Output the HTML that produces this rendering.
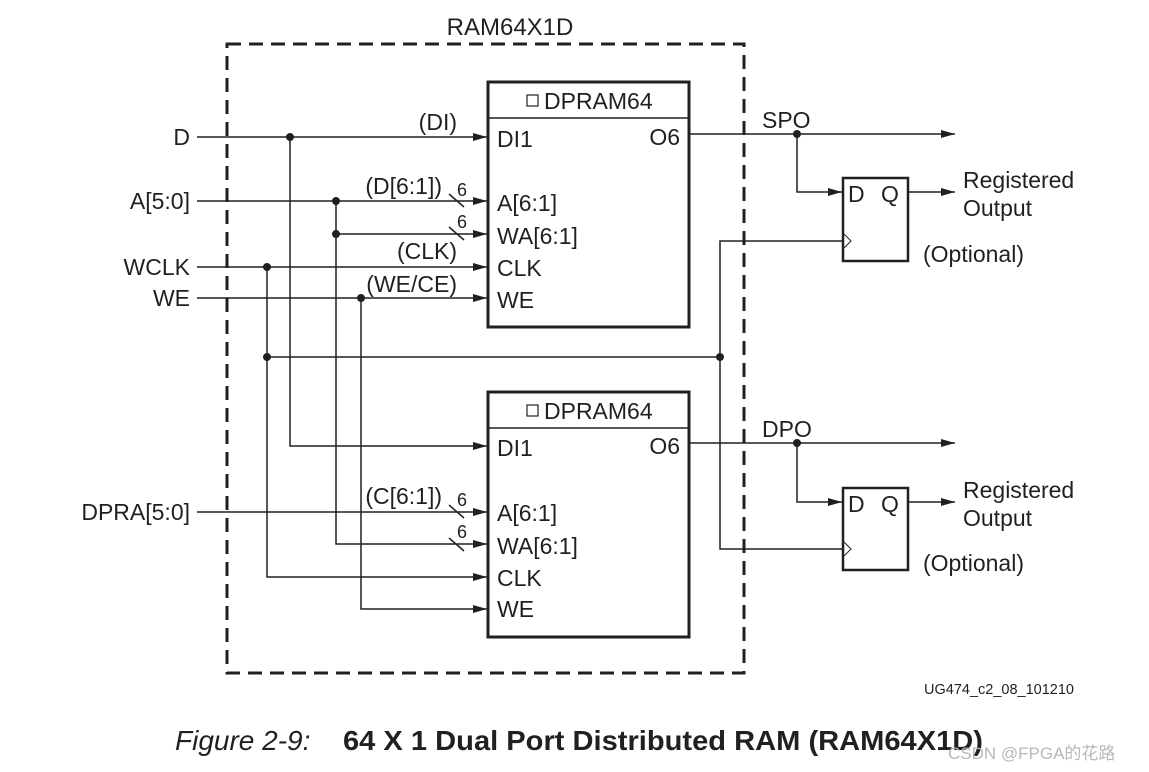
<!DOCTYPE html>
<html><head><meta charset="utf-8"><style>
html,body{margin:0;padding:0;background:#fff;}
svg{display:block;font-family:"Liberation Sans",Arial,sans-serif;}
</style></head><body>
<svg width="1149" height="772" viewBox="0 0 1149 772" xmlns="http://www.w3.org/2000/svg">
<defs>
<marker id="ar" markerWidth="14" markerHeight="10" refX="14" refY="5" orient="auto" markerUnits="userSpaceOnUse">
<path d="M0,1 L14,5 L0,9 z" fill="#231f20"/></marker>
</defs>
<g fill="none" stroke="#231f20">
<rect x="227" y="44" width="517" height="629" stroke-width="3" stroke-dasharray="14,8"/>
<rect x="488" y="82" width="201" height="245" stroke-width="3"/>
<line x1="488" y1="118" x2="689" y2="118" stroke-width="1.5"/>
<rect x="488" y="392" width="201" height="245" stroke-width="3"/>
<line x1="488" y1="428" x2="689" y2="428" stroke-width="1.5"/>
<rect x="843" y="178" width="65" height="83" stroke-width="2.5"/>
<rect x="843" y="488" width="65" height="82" stroke-width="2.5"/>
<path d="M844,234 L851,241 L844,248" stroke-width="1"/>
<path d="M844,542 L851,549 L844,556" stroke-width="1"/>
<g stroke-width="1.5" marker-end="url(#ar)">
<line x1="197" y1="137" x2="487" y2="137"/>
<line x1="197" y1="201" x2="487" y2="201"/>
<line x1="336" y1="234" x2="487" y2="234"/>
<line x1="197" y1="267" x2="487" y2="267"/>
<line x1="197" y1="298" x2="487" y2="298"/>
<polyline points="290,137 290,446 487,446"/>
<line x1="197" y1="512" x2="487" y2="512"/>
<polyline points="336,201 336,544 487,544"/>
<polyline points="267,267 267,577 487,577"/>
<polyline points="361,298 361,609 487,609"/>
<line x1="689" y1="134" x2="955" y2="134"/>
<polyline points="797,134 797,192 842,192"/>
<line x1="908" y1="192" x2="955" y2="192"/>
<line x1="689" y1="443" x2="955" y2="443"/>
<polyline points="797,443 797,502 842,502"/>
<line x1="908" y1="502" x2="955" y2="502"/>
</g>
<g stroke-width="1.5">
<line x1="267" y1="357" x2="720" y2="357"/>
<polyline points="843,241 720,241 720,549 843,549"/>
<line x1="449" y1="194" x2="464" y2="207"/>
<line x1="449" y1="227" x2="464" y2="240"/>
<line x1="449" y1="505" x2="464" y2="518"/>
<line x1="449" y1="538" x2="464" y2="551"/>
</g>
<rect x="527" y="95" width="11" height="11" stroke-width="1.2"/>
<rect x="527" y="405" width="11" height="11" stroke-width="1.2"/>
</g>
<path fill="#231f20" stroke="none" d="
M286,137a4,4 0 1,0 8,0a4,4 0 1,0 -8,0z
M332,201a4,4 0 1,0 8,0a4,4 0 1,0 -8,0z
M332,234a4,4 0 1,0 8,0a4,4 0 1,0 -8,0z
M263,267a4,4 0 1,0 8,0a4,4 0 1,0 -8,0z
M357,298a4,4 0 1,0 8,0a4,4 0 1,0 -8,0z
M263,357a4,4 0 1,0 8,0a4,4 0 1,0 -8,0z
M716,357a4,4 0 1,0 8,0a4,4 0 1,0 -8,0z
M793,134a4,4 0 1,0 8,0a4,4 0 1,0 -8,0z
M793,443a4,4 0 1,0 8,0a4,4 0 1,0 -8,0z"/>
<g fill="#231f20" font-size="23">
<text x="510" y="35" font-size="24" text-anchor="middle">RAM64X1D</text>
<g text-anchor="end">
<text x="190" y="145">D</text><text x="190" y="209">A[5:0]</text><text x="190" y="275">WCLK</text>
<text x="190" y="306">WE</text><text x="190" y="520">DPRA[5:0]</text>
<text x="457" y="130">(DI)</text><text x="442" y="194">(D[6:1])</text><text x="457" y="259">(CLK)</text>
<text x="457" y="292">(WE/CE)</text><text x="442" y="504">(C[6:1])</text>
<text x="680" y="145">O6</text><text x="680" y="454">O6</text>
</g>
<text x="457" y="196" font-size="18">6</text><text x="457" y="228" font-size="18">6</text>
<text x="457" y="506" font-size="18">6</text><text x="457" y="538" font-size="18">6</text>
<text x="544" y="109">DPRAM64</text><text x="544" y="419">DPRAM64</text>
<text x="497" y="147">DI1</text><text x="497" y="211">A[6:1]</text><text x="497" y="244">WA[6:1]</text>
<text x="497" y="276">CLK</text><text x="497" y="308">WE</text>
<text x="497" y="456">DI1</text><text x="497" y="521">A[6:1]</text><text x="497" y="554">WA[6:1]</text>
<text x="497" y="586">CLK</text><text x="497" y="617">WE</text>
<text x="762" y="128">SPO</text><text x="762" y="437">DPO</text>
<text x="848" y="202">D</text><text x="881" y="202">Q</text>
<text x="848" y="512">D</text><text x="881" y="512">Q</text>
<text x="963" y="188">Registered</text><text x="963" y="216">Output</text><text x="923" y="262">(Optional)</text>
<text x="963" y="498">Registered</text><text x="963" y="526">Output</text><text x="923" y="571">(Optional)</text>
<text x="924" y="694" font-size="14.5">UG474_c2_08_101210</text>
<text x="175" y="750" font-size="28" font-style="italic">Figure 2-9:</text>
<text x="343" y="750" font-size="28" font-weight="bold" textLength="640" lengthAdjust="spacingAndGlyphs">64 X 1 Dual Port Distributed RAM (RAM64X1D)</text>
</g>
<text x="948" y="759" font-size="17" fill="#b8b8b8" font-family="'Liberation Sans','Noto Sans CJK SC',sans-serif">CSDN @FPGA的花路</text>
</svg>
</body></html>
